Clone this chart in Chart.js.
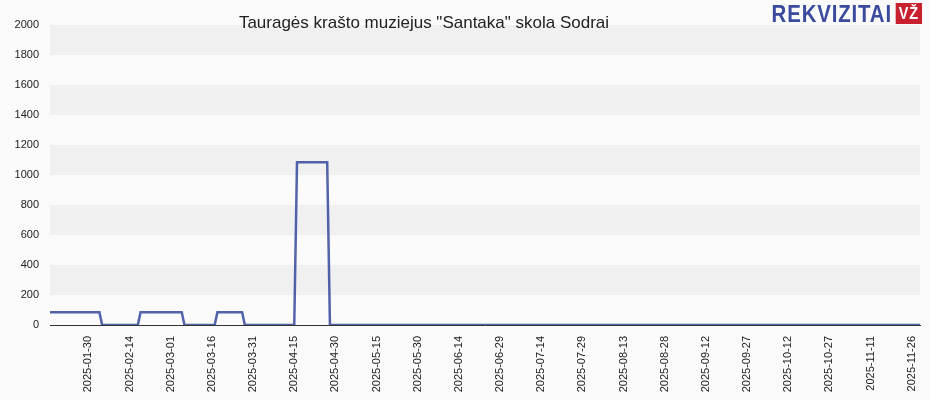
<!DOCTYPE html>
<html><head><meta charset="utf-8">
<script src="https://cdn.jsdelivr.net/npm/chart.js@4"></script>
<style>
html,body{margin:0;padding:0;background:#fafafa;}
#wrap{position:relative;width:930px;height:400px;}
#title{position:absolute;left:0;width:848px;top:13px;text-align:center;font:17px "Liberation Sans",Arial,sans-serif;color:#222;}
#logo{position:absolute;right:8px;top:0px;font:bold 24px "Liberation Sans Narrow","Liberation Sans",sans-serif;color:#3a4a9c;letter-spacing:1px;transform:scaleX(0.85);transform-origin:right top;}
#logo span{background:#c8202f;color:#fff;font-size:17px;padding:1px 4px;margin-left:4px;vertical-align:3px;}
</style></head><body>
<div id="wrap"><canvas id="c" width="930" height="400"></canvas>
<div id="title">Tauragės krašto muziejus "Santaka" skola Sodrai</div>
<div id="logo">REKVIZITAI<span>VŽ</span></div></div>
<script>
// day-of-year 2025 (Jan 1 = 0) and values
const days   = [15, 33, 34, 47, 48, 63, 64, 75, 76, 85, 86, 104, 105, 116, 117, 332];
const values = [85, 85, 0,  0,  85, 85, 0,  0,  85, 85, 0,  0,   1085,1085,0,   0];
const tickDays = [29,44,59,74,89,104,119,134,149,164,179,194,209,224,239,254,269,284,299,314,329];
const yTicks = [0,200,400,600,800,1000,1200,1400,1600,1800,2000];
function fmt(d){const t=new Date(Date.UTC(2025,0,1+d));return t.toISOString().slice(0,10);}
const bands={id:'bands',beforeDatasetsDraw(ch){const {ctx,chartArea:a,scales:{y}}=ch;ctx.save();
for(let i=0;i<yTicks.length-1;i++){ctx.fillStyle=i%2?'#f0f0f0':'#fafafa';const t=y.getPixelForValue(yTicks[i+1]),b=y.getPixelForValue(yTicks[i]);ctx.fillRect(a.left,t,a.right-a.left,b-t);}
ctx.restore();}};
new Chart(document.getElementById('c'),{type:'line',
data:{datasets:[{data:days.map((d,i)=>({x:d,y:values[i]})),borderColor:'rgba(52,72,158,0.85)',borderWidth:2.5,pointRadius:0,tension:0}]},
options:{responsive:false,animation:false,layout:{padding:{top:25,right:10,left:0,bottom:4}},
plugins:{legend:{display:false},tooltip:{enabled:false}},
scales:{x:{type:'linear',min:15,max:332,afterBuildTicks(s){s.ticks=tickDays.map(v=>({value:v}));},
afterFit(s){s.height=71;},
ticks:{callback:v=>fmt(v),maxRotation:90,minRotation:90,autoSkip:false,font:{size:11,family:'Liberation Sans'},color:'#222'},
grid:{display:false,drawTicks:true},border:{color:'#333'}},
y:{min:0,max:2000,afterBuildTicks(s){s.ticks=yTicks.map(v=>({value:v}));},afterFit(s){s.width=50;},
ticks:{callback:v=>String(v),font:{size:11,family:'Liberation Sans'},color:'#222'},grid:{display:false},border:{color:'#333'}}}},
plugins:[bands]});
</script></body></html>
